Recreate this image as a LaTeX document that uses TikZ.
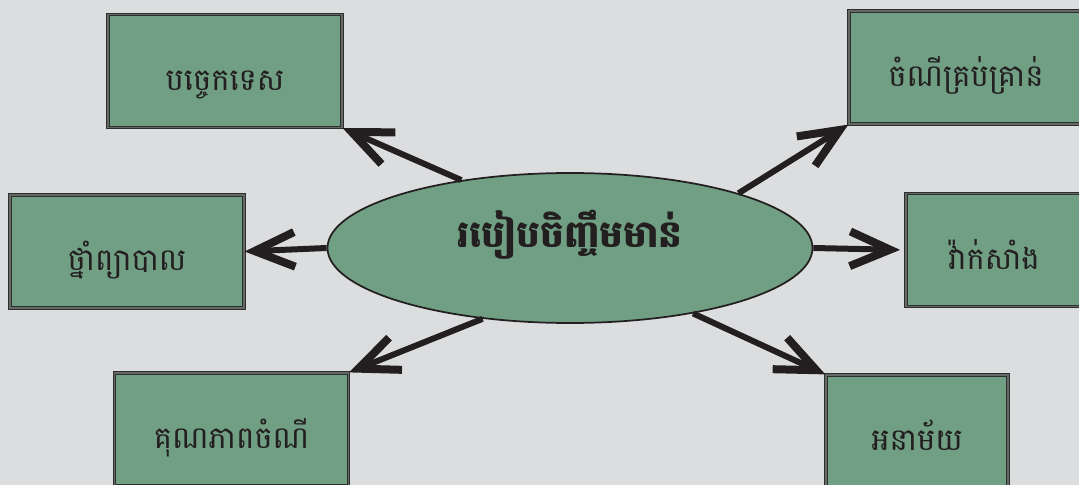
\documentclass[tikz,border=0pt]{standalone}
\usepackage{fontspec}
\newfontfamily\khfont[Script=Khmer]{Battambang}
\usetikzlibrary{shapes.geometric,arrows.meta}
\definecolor{bggray}{RGB}{220,221,223}
\definecolor{boxgreen}{RGB}{112,159,131}
\definecolor{boxline}{RGB}{45,47,46}
\definecolor{boxmid}{RGB}{100,105,102}
\definecolor{inkblack}{RGB}{35,31,32}
\tikzset{
  topic/.style={draw=boxline,double=boxmid,double distance=0.8pt,line width=0.9pt,
    fill=boxgreen,minimum width=175.5pt,minimum height=84.75pt,inner sep=0pt,
    text height=29pt,text depth=0pt,
    text=inkblack,font=\khfont\fontsize{23}{27}\selectfont},
  hub/.style={ellipse,draw=inkblack,line width=1.3pt,fill=boxgreen,
    minimum width=363.75pt,minimum height=112.5pt,inner sep=0pt,
    text height=0pt,text depth=1pt,
    text=inkblack,font=\khfont\bfseries\fontsize{28}{32}\selectfont},
  spoke/.style={draw=inkblack,line width=4.5pt,
    -{Straight Barb[length=30pt,width=26pt,line width=6pt]}}
}
\begin{document}
\begin{tikzpicture}[x=0.75pt,y=-0.75pt]
% background
\path[use as bounding box,fill=bggray] (0,0) rectangle (1079,485);
\clip (0,0) rectangle (1079,485);

% centre
\node[hub] (hub) at (570,248) {របៀបចិញ្ចឹមមាន់};

% boxes
\node[topic] (tech) at (225,71) {បច្ចេកទេស};
\node[topic] (feed) at (966,67.5) {ចំណីគ្រប់គ្រាន់};
\node[topic] (med) at (127,251.5) {ថ្នាំព្យាបាល};
\node[topic,minimum width=132pt] (vac) at (994,250) {វ៉ាក់សាំង};
\node[topic] (qual) at (231.5,429.5) {គុណភាពចំណី};
\node[topic,minimum width=136.5pt] (hyg) at (917,431.5) {អនាម័យ};

% arrows
\draw[spoke] (hub.148) -- (tech.south east);
\draw[spoke] (hub.18) -- (feed.south west);
\draw[spoke] (hub.west) -- (med.east);
\draw[spoke,shorten >=4pt] (hub.east) -- (vac.west);
\draw[spoke] (hub.219) -- (qual.north east);
\draw[spoke] (hub.332) -- (hyg.north west);
\end{tikzpicture}
\end{document}
